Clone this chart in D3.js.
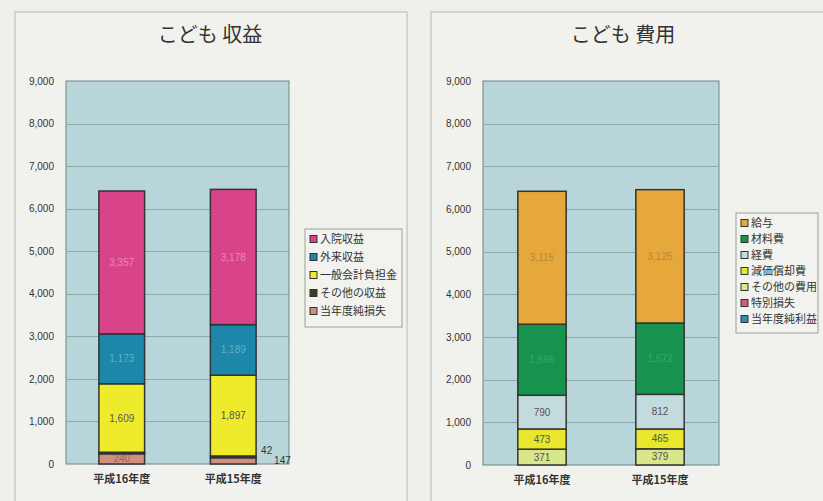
<!DOCTYPE html>
<html>
<head>
<meta charset="utf-8">
<script src="https://cdn.jsdelivr.net/npm/d3@7"></script>
<style>
  body { margin: 0; background: #eef0ea; }
  svg { display: block; font-family: "Liberation Sans", Arial, sans-serif; }
  .jp { font-family: "Noto Sans CJK JP", sans-serif; }
</style>
</head>
<body>
<svg width="823" height="501"></svg>
<script>
// categories (years)
var years = ["平成16年度", "平成15年度"];
var yTicks = [0, 1000, 2000, 3000, 4000, 5000, 6000, 7000, 8000, 9000];

// revenue series, legend order (top of stack first)
var revNames = ["入院収益", "外来収益", "一般会計負担金", "その他の収益", "当年度純損失"];
var revInpatient = [3357, 3178];
var revOutpatient = [1173, 1189];
var revGeneral = [1609, 1897];
var revOther = [36, 42];
var revLoss = [240, 147];

// expense series, legend order (top of stack first)
var expNames = ["給与", "材料費", "経費", "減価償却費", "その他の費用", "特別損失", "当年度純利益"];
var expSalary = [3115, 3125];
var expMaterial = [1666, 1672];
var expCost = [790, 812];
var expDepreciation = [473, 465];
var expOther = [371, 379];
var expSpecial = [0, 0];
var expProfit = [0, 0];

var svg = d3.select("svg");

function drawPanel(cfg) {
    var x = d3.scaleBand().domain(years).range([cfg.left, cfg.right]).paddingInner(0.59).paddingOuter(0.295);
    var y = d3.scaleLinear().domain([0, 9000]).range([cfg.bottom, cfg.top]);

    var g = svg.append("g");

    // panel frame
    g.append("rect")
        .attr("x", cfg.frame[0]).attr("y", cfg.frame[1])
        .attr("width", cfg.frame[2]).attr("height", cfg.frame[3])
        .attr("fill", "#f1f2ee").attr("stroke", "#b4b8b2").attr("stroke-width", 1);

    g.append("text").attr("class", "jp")
        .attr("x", cfg.titleX).attr("y", 42)
        .attr("text-anchor", "middle")
        .attr("font-size", 20).attr("fill", "#333")
        .text(cfg.title);

    // plot area
    g.append("rect")
        .attr("x", cfg.left).attr("y", cfg.top)
        .attr("width", cfg.right - cfg.left).attr("height", cfg.bottom - cfg.top)
        .attr("fill", "#b8d6d9").attr("stroke", "#6f8484").attr("stroke-width", 1);

    g.selectAll(".grid").data(yTicks.slice(1, -1)).enter().append("line")
        .attr("x1", cfg.left).attr("x2", cfg.right)
        .attr("y1", function(d) { return Math.round(y(d)) + 0.5; })
        .attr("y2", function(d) { return Math.round(y(d)) + 0.5; })
        .attr("stroke", "#8ea9aa").attr("stroke-width", 1);

    var yAxis = d3.axisLeft(y).tickValues(yTicks).tickSize(0).tickPadding(0).tickFormat(d3.format(","));
    var ya = g.append("g").attr("transform", "translate(" + (cfg.left - 12) + ",0)").call(yAxis);
    ya.select(".domain").remove();
    ya.selectAll("text").attr("font-size", 10).attr("fill", "#333").attr("font-family", "Liberation Sans, Arial, sans-serif");

    var xa = g.append("g").attr("transform", "translate(0," + (cfg.bottom + 11) + ")")
        .call(d3.axisBottom(x).tickSize(0).tickPadding(0));
    xa.select(".domain").remove();
    xa.selectAll("text").attr("class", "jp").attr("font-size", 11).attr("fill", "#333").attr("font-weight", "bold");

    // stack: bottom series first
    var order = cfg.names.slice().reverse();
    years.forEach(function(year, i) {
        var base = 0;
        order.forEach(function(name) {
            var v = cfg.values[name][i];
            var y0 = y(base), y1 = y(base + v);
            base += v;
            if (v <= 0) return;
            g.append("rect")
                .attr("x", x(year)).attr("y", y1)
                .attr("width", x.bandwidth()).attr("height", y0 - y1)
                .attr("fill", cfg.colors[name])
                .attr("stroke", "#333").attr("stroke-width", 1.5);
            if (cfg.hide[name] && cfg.hide[name][i]) return;
            var h = y0 - y1;
            var lbl = g.append("text")
                .attr("font-size", 10)
                .attr("fill", cfg.labelColors[name])
                .attr("dy", "0.35em")
                .text(d3.format(",")(v));
            if (h >= 8) {
                lbl.attr("x", x(year) + x.bandwidth() / 2).attr("y", (y0 + y1) / 2).attr("text-anchor", "middle");
            } else {
                var out = cfg.outside[name];
                lbl.attr("x", x(year) + x.bandwidth() + out[0]).attr("y", (y0 + y1) / 2 + out[1]).attr("fill", "#333");
            }
        });
    });

    // legend
    var lg = g.append("g");
    lg.append("rect")
        .attr("x", cfg.legend[0]).attr("y", cfg.legend[1])
        .attr("width", cfg.legend[2]).attr("height", cfg.names.length * cfg.legendStep + 8)
        .attr("fill", "#f2f3ef").attr("stroke", "#9a9e98");
    cfg.names.forEach(function(name, k) {
        var cy = cfg.legend[1] + 10 + k * cfg.legendStep;
        lg.append("rect")
            .attr("x", cfg.legend[0] + 5).attr("y", cy - 3.5)
            .attr("width", 7).attr("height", 7)
            .attr("fill", cfg.colors[name]).attr("stroke", "#333").attr("stroke-width", 1);
        lg.append("text").attr("class", "jp")
            .attr("x", cfg.legend[0] + 15).attr("y", cy)
            .attr("dy", "0.36em")
            .attr("font-size", 11).attr("fill", "#333")
            .text(name);
    });
}

drawPanel({
    title: "こども 収益", titleX: 210,
    frame: [15, 12, 392, 500],
    left: 66, right: 289, top: 81, bottom: 464,
    names: revNames,
    values: { "入院収益": revInpatient, "外来収益": revOutpatient, "一般会計負担金": revGeneral, "その他の収益": revOther, "当年度純損失": revLoss },
    colors: { "入院収益": "#d8438a", "外来収益": "#1c87a8", "一般会計負担金": "#eeeb2c", "その他の収益": "#3d3d22", "当年度純損失": "#cf9080" },
    labelColors: { "入院収益": "#ee86b8", "外来収益": "#5fb0cc", "一般会計負担金": "#555", "その他の収益": "#333", "当年度純損失": "#8a6a66" },
    hide: { "その他の収益": [true, false] },
    outside: { "その他の収益": [5, -6], "当年度純損失": [18, 0] },
    legend: [305, 229, 97], legendStep: 18
});

drawPanel({
    title: "こども 費用", titleX: 623,
    frame: [431, 12, 420, 500],
    left: 483, right: 719, top: 81, bottom: 465,
    names: expNames,
    values: { "給与": expSalary, "材料費": expMaterial, "経費": expCost, "減価償却費": expDepreciation, "その他の費用": expOther, "特別損失": expSpecial, "当年度純利益": expProfit },
    colors: { "給与": "#e6a83a", "材料費": "#17934f", "経費": "#c3dbdc", "減価償却費": "#e9e62e", "その他の費用": "#d9e68a", "特別損失": "#c9607e", "当年度純利益": "#2f8fb0" },
    labelColors: { "給与": "#b98a3a", "材料費": "#3aa56a", "経費": "#555", "減価償却費": "#555", "その他の費用": "#555", "特別損失": "#333", "当年度純利益": "#333" },
    hide: {},
    outside: {},
    legend: [736, 213, 82], legendStep: 16
});
</script>
</body>
</html>
